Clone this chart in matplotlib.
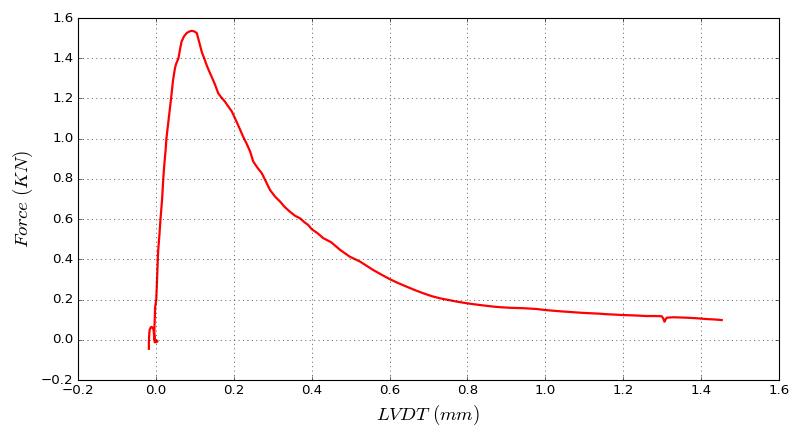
import numpy as np
import matplotlib
matplotlib.use('Agg')
import matplotlib.pyplot as plt

# LVDT displacement (mm) and force (KN)
lvdt = [-0.018, -0.018, -0.017, -0.016, -0.013, -0.011, -0.008, -0.006, -0.005, -0.004,
        -0.003, 0.001, 0.004, 0.002, -0.003, -0.004, -0.003, -0.002, 0.001, 0.003,
        0.005, 0.006, 0.009, 0.012, 0.016, 0.019, 0.022, 0.025, 0.027, 0.033,
        0.039, 0.044, 0.049, 0.052, 0.058, 0.062, 0.066, 0.072, 0.079, 0.086,
        0.092, 0.099, 0.105, 0.113, 0.118, 0.124, 0.131, 0.139, 0.146, 0.152,
        0.160, 0.168, 0.177, 0.186, 0.195, 0.207, 0.215, 0.224, 0.233, 0.242,
        0.250, 0.261, 0.272, 0.283, 0.293, 0.306, 0.319, 0.331, 0.344, 0.357,
        0.370, 0.381, 0.391, 0.400, 0.415, 0.430, 0.450, 0.473, 0.498, 0.524,
        0.541, 0.558, 0.580, 0.601, 0.622, 0.644, 0.665, 0.687, 0.708, 0.730,
        0.751, 0.772, 0.794, 0.815, 0.840, 0.866, 0.884, 0.910, 0.944, 0.978,
        0.999, 1.029, 1.050, 1.072, 1.094, 1.115, 1.137, 1.158, 1.180, 1.200,
        1.230, 1.260, 1.280, 1.299, 1.303, 1.306, 1.309, 1.312, 1.329, 1.360,
        1.389, 1.414, 1.435, 1.453]
force = [-0.045, -0.01, 0.03, 0.050, 0.062, 0.064, 0.060, 0.049, 0.030, 0.005,
         -0.012, -0.012, -0.008, -0.004, 0.0, 0.04, 0.10, 0.16, 0.201, 0.30,
         0.405, 0.447, 0.52, 0.604, 0.70, 0.803, 0.88, 0.944, 1.000, 1.10,
         1.200, 1.290, 1.351, 1.372, 1.400, 1.445, 1.483, 1.508, 1.525, 1.533,
         1.536, 1.533, 1.525, 1.467, 1.430, 1.400, 1.362, 1.326, 1.295, 1.268,
         1.226, 1.205, 1.185, 1.160, 1.135, 1.085, 1.050, 1.010, 0.975, 0.936,
         0.886, 0.855, 0.828, 0.785, 0.745, 0.712, 0.687, 0.660, 0.637, 0.617,
         0.604, 0.585, 0.571, 0.550, 0.530, 0.505, 0.485, 0.447, 0.413, 0.389,
         0.368, 0.347, 0.323, 0.301, 0.282, 0.264, 0.247, 0.231, 0.217, 0.206,
         0.198, 0.190, 0.183, 0.177, 0.171, 0.165, 0.162, 0.159, 0.157, 0.153,
         0.148, 0.143, 0.140, 0.137, 0.134, 0.132, 0.130, 0.127, 0.125, 0.123,
         0.121, 0.118, 0.118, 0.117, 0.105, 0.090, 0.102, 0.110, 0.112, 0.110,
         0.107, 0.103, 0.101, 0.098]

xticks = [-0.2, 0.0, 0.2, 0.4, 0.6, 0.8, 1.0, 1.2, 1.4, 1.6]
yticks = [-0.2, 0.0, 0.2, 0.4, 0.6, 0.8, 1.0, 1.2, 1.4, 1.6]

plt.style.use('classic')
plt.rcParams['figure.facecolor'] = 'white'
plt.rcParams['savefig.facecolor'] = 'white'
plt.rcParams['mathtext.fontset'] = 'cm'

fig = plt.figure(figsize=(798/80, 432/80), dpi=80)
ax = fig.add_axes([78/798, 52/432, 701/798, 362/432])
ax.plot(lvdt, force, color='r', lw=2)
ax.set_xlim(-0.2, 1.6)
ax.set_ylim(-0.2, 1.6)
ax.set_xticks(xticks)
ax.set_yticks(yticks)
ax.grid(True)
ax.set_xlabel(r'$LVDT\ (mm)$', fontsize=17)
ax.set_ylabel(r'$Force\ (KN)$', fontsize=17)
fig.savefig('out.png', dpi=80)
